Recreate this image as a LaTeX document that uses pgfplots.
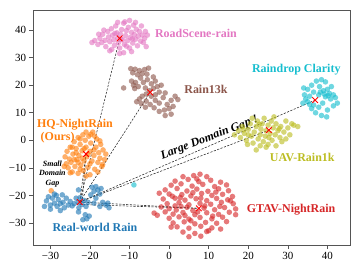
\documentclass[border=0pt]{standalone}
\usepackage{fontspec}
\setmainfont{Liberation Serif}
\usepackage{pgfplots}
\pgfplotsset{compat=1.18}
\definecolor{cpink}{HTML}{E377C2}
\definecolor{cbrown}{HTML}{8C564B}
\definecolor{ccyan}{HTML}{17BECF}
\definecolor{colive}{HTML}{BCBD22}
\definecolor{corange}{HTML}{FF7F0E}
\definecolor{cblue}{HTML}{1F77B4}
\definecolor{cred}{HTML}{D62728}
\definecolor{frame}{HTML}{555555}
\begin{document}
\begin{tikzpicture}
\begin{axis}[
  at={(33bp,27bp)}, anchor=south west,
  scale only axis, width=317bp, height=235bp,
  xmin=-34.4, xmax=45.7, ymin=-38.0, ymax=47.3,
  xtick={-30,-20,-10,0,10,20,30,40},
  xticklabels={−30,−20,−10,0,10,20,30,40},
  ytick={-30,-20,-10,0,10,20,30,40},
  yticklabels={−30,−20,−10,0,10,20,30,40},
  tick align=outside, tick pos=left,
  major tick length=3.5bp,
  axis line style={frame, line width=0.8pt},
  tick style={frame, line width=0.7pt},
  ticklabel style={font=\fontsize{11}{13}\selectfont},
  clip=false,
  sc/.style={only marks, mark=*, mark size=2.8pt, color=#1, mark options={draw opacity=0, fill=#1, fill opacity=0.62}},
]
% RoadScene-rain
\addplot[sc=cpink] coordinates {
(-19.5,35.5) (-18.8,36.2) (-18,34.8) (-17.5,37) (-17,35.5) (-16.8,38.5) (-16.2,36.3) (-16,34) (-15.5,39.5) (-15.3,37.5) (-15,35.8) (-15,32.5) (-14.6,40.5) (-14.3,38.2) (-14,36.5) (-13.8,34.5) (-13.5,41.5) (-13.2,39) (-13,37.2) (-12.8,35.5) (-12.5,33.5) (-12.3,38.5) (-12,40.2) (-11.8,36.5) (-11.5,42.5) (-11.3,34.8) (-11,38) (-10.8,39.8) (-10.5,36.2) (-10.3,41) (-10,43.5) (-10,33.5) (-9.8,37.3) (-9.5,39.2) (-9.2,35.3) (-9,41.8) (-8.8,38.4) (-8.5,36.7) (-8.3,40.3) (-8,34.3) (-7.8,37.8) (-7.5,39.5) (-7.2,36) (-7,41.5) (-6.8,38.2) (-6.5,35.5) (-6.2,37) (-6,39.5) (-5.8,34) (-12.5,31.5) (-14.5,33) (-9.5,32.2) (-16.5,40) (-13,42.8) (-11.2,43) (-8.5,42.8) (-11.5,31.8) (-17.8,38.5) (-5.5,38.2) (-10.8,34.2) (-12.2,36.7) (-13.7,38.8) (-9.3,36.8)
};
% Rain13k
\addplot[sc=cbrown] coordinates {
(-11.5,19) (-9.7,26) (-9.2,24.5) (-8.6,25.8) (-8,23.8) (-7.5,25.3) (-6.8,24.2) (-6.2,25.7) (-5.6,24) (-5.2,26.2) (-9.5,21.5) (-9,20) (-8.5,21) (-8.7,18.8) (-7.8,19.5) (-6.5,21) (-5.5,22) (-4.5,20.5) (-3.5,21.5) (-6,19) (-5,18) (-4,18.8) (-3,19.5) (-2.5,17.5) (-2,20) (-3.5,16.5) (-4.5,16) (-5.8,16.8) (-6.8,16) (-7.5,15) (-8.2,14) (-7,13.3) (-5.8,14.2) (-4.8,13) (-3.5,14.5) (-2.5,13.5) (-1.5,15.5) (-1,17.2) (-0.5,13) (0.5,14.5) (1.5,16) (2.2,14.8) (0,11.5) (-1.2,11) (-2.5,10.5) (-1,9) (0.5,9.5) (-3.8,11.8) (-6,12) (-4,23) (-7.2,22.6) (1,12.3)
};
% Raindrop Clarity
\addplot[sc=ccyan] coordinates {
(33.8,13.5) (34.5,15) (34.2,16.5) (35,14) (35.5,16) (35,18.5) (36,20) (36.5,17.5) (37.2,21.5) (38,19.5) (38.5,22) (39.5,21.2) (39,18) (40,18.5) (40.5,17) (41.5,16.5) (42,15.5) (40.8,15) (39.5,15.8) (38.8,13.5) (37.8,12) (36.5,12.8) (37,10) (38.5,9) (40,11) (41.5,12.5) (42.5,13.5) (39.8,8.5) (36,11.5) (35.5,13) (34,19) (37.8,16.5) (39.2,16.8) (38.2,17.5) (40.2,16.2) (41,19.5) (-8.9,-16.2)
};
% UAV-Rain1k
\addplot[sc=colive] coordinates {
(16.5,2) (17.5,3.5) (18,1) (18.5,5) (19,2.5) (19.5,0) (20,4) (20.5,6) (20.8,1.5) (21.2,-1) (21.5,3) (22,5) (22.3,7) (22.5,0.5) (22,-3.5) (23,2) (23.2,4) (23.5,6) (23.8,-0.5) (24,8) (24.3,1.5) (24.5,3.5) (25,5.5) (25,-1.5) (25.5,2.5) (25.8,7) (26,0) (26.3,4.5) (26.8,2) (27,6) (27,-2) (27.5,3.5) (28,1) (28.2,5) (28.5,-0.5) (29,3) (29.5,7) (29.5,0.5) (30,4.5) (31,6) (31.5,5.5) (32.5,5) (30.5,2) (24.5,-2.5) (23,-2) (19.8,-1.5) (21,8) (26.5,8.5) (20,2) (18.8,3.8) (27.8,4.2) (25.2,1) (22.8,5.8)
};
% HQ-NightRain
\addplot[sc=corange] coordinates {
(-26.3,-6) (-26,-8.5) (-25.8,-4) (-25.5,-10) (-25.2,-6.8) (-25,-2.5) (-24.8,-8) (-24.5,-11.5) (-24.3,-5) (-24,-0.5) (-23.8,-9.5) (-23.5,-3) (-23.3,-7) (-23,1) (-23,-12) (-22.8,-5.5) (-22.5,-1.5) (-22.3,-9) (-22,-3.8) (-21.8,2) (-21.7,-11) (-21.5,-7.5) (-21.2,0) (-21,-2.5) (-20.8,-6) (-20.5,-9.8) (-20.3,1.5) (-20,-4) (-20,-12.5) (-19.8,-1) (-19.5,-7.5) (-19.3,3) (-19,-5.5) (-18.8,-10.5) (-18.5,-2.5) (-18.3,0.5) (-18,-8) (-17.8,-4.5) (-17.5,-6.5) (-17.3,-1.5) (-17,-9.5) (-16.7,-3.5) (-16.3,-7) (-16,-5) (-22,-6.5) (-23.5,-4.5) (-20.5,-5) (-21.5,-3) (-19,-3.5) (-24,-7) (-22.5,-10.5) (-20,-8.5) (-18,-11.5) (-25,-11.8) (-21,3) (-22.5,0.5) (-19.8,2.2) (-26.5,-9.5) (-23,-8) (-17.5,-0.2) (-29.8,-18.3) (-24.5,-2.5) (-21,-13) (-18.8,1.5) (-16.8,-8.8)
};
% Real-world Rain
\addplot[sc=cblue] coordinates {
(-31,-22) (-30.5,-20.5) (-30,-23.5) (-29.5,-21) (-29,-22.8) (-28.5,-20) (-28.3,-24) (-28,-21.5) (-27.5,-23) (-27,-19.8) (-26.8,-22.5) (-26.5,-24.5) (-26,-21) (-25.5,-23.5) (-25,-22.2) (-24.5,-23.8) (-24,-23) (-23.5,-21) (-23,-22.5) (-22.8,-24.5) (-22.5,-20.8) (-22,-23.3) (-21.5,-21.8) (-21,-24) (-20.5,-22.5) (-22.9,-18) (-22.9,-26) (-21.2,-27) (-20.8,-28.5) (-20.2,-27.5) (-21.8,-28.8) (-19.5,-17) (-19,-18.5) (-18.5,-16.8) (-18,-18) (-17.5,-19.5) (-17.2,-17.5) (-19.8,-19.8) (-16.8,-22.5) (-16,-23.5) (-15.5,-22.8) (-15.2,-24.5) (-17.5,-24) (-19,-22.8) (-18.5,-21) (-31.5,-24) (-30,-25) (-27.5,-25.5) (-29,-19.5)
};
% GTAV-NightRain
\addplot[sc=cred] coordinates {
(3.5,-13.2) (6.2,-12.8) (7.8,-12.3) (9.5,-13.2) (1.5,-14.8) (4.8,-14.2) (7.5,-15) (10.5,-14.5) (13,-15.2)
(0.5,-16.3) (3,-15.8) (5.8,-16.6) (8.5,-16) (11.5,-16.8) (14.5,-16.2)
(-1,-18) (2,-17.5) (4.5,-18.4) (7,-17.7) (9.8,-18.5) (12.5,-17.6) (15,-18.3)
(-2.5,-19.2) (0,-19.5) (0.8,-20.3) (3.2,-19.7) (5.5,-20.2) (8.2,-19.3) (10.8,-20) (13.5,-19.6) (16,-20.4)
(-1.5,-21.3) (1.5,-21) (4,-21.7) (6.8,-21.2) (9.5,-21.9) (12,-21.1) (14.8,-21.6)
(-0.5,-23) (2.5,-22.6) (5,-23.4) (7.8,-22.9) (10.5,-23.2) (13.2,-22.5) (16.2,-23)
(0,-24.8) (1.8,-25.3) (4.5,-24.3) (6,-25.5) (8.8,-24.6) (11.5,-25.2) (14,-24.4) (16.8,-24.9)
(-3.8,-26.4) (-3,-27.2) (-1,-26) (1,-26.8) (3.5,-26.2) (6.5,-27) (9.5,-26.3) (12.5,-26.9) (15.2,-26.1)
(0,-28.3) (2.5,-27.8) (5,-28.6) (7.8,-28) (10.8,-28.5) (13.5,-27.9)
(1,-30) (3.8,-29.6) (6.5,-30.3) (9.2,-29.8) (12,-30.1) (14.5,-29.5)
(2,-31.4) (5,-31.9) (8,-31.2) (10.8,-31.8) (13,-32.2)
(3.5,-33.3) (6.5,-33.8) (9.5,-33.1) (5,-35) (8,-34.8)
(2.8,-20.8) (6,-19) (9,-23.8) (11,-27.5) (4,-27.3) (7.2,-26) (3,-24) (12.8,-24) (8,-21) (5.5,-29.2) (10,-32.8) (15.5,-22) (1.5,-23.8) (-2,-24.2) (7,-14) (11.8,-18.8) (16.8,-27) (0.5,-31.5)
};
% dashed connection lines
\pgfplotsset{dl/.style={black!85, line width=0.55pt, dash pattern=on 2.2pt off 1.4pt, forget plot}}
\addplot[dl] coordinates {(-22.6,-22.4) (-12.5,37.0)};
\addplot[dl] coordinates {(-22.6,-22.4) (-4.8,17.4)};
\addplot[dl] coordinates {(-22.6,-22.4) (-21.0,-5.0)};
\addplot[dl] coordinates {(-22.0,-22.6) (-21.0,-5.0)};
\addplot[dl] coordinates {(-22.6,-22.4) (36.9,14.6)};
\addplot[dl] coordinates {(-22.6,-22.4) (25.2,3.7)};
\addplot[dl] coordinates {(-22.6,-22.4) (7.5,-24.7)};
\addplot[dl] coordinates {(-22.6,-23.3) (7.5,-24.7)};
% centroids
\addplot[only marks, mark=x, mark size=4pt, red, line width=0.9pt] coordinates {
(-12.5,37.0) (-4.8,17.4) (36.9,14.6) (25.2,3.7) (-21.0,-5.0) (-22.6,-22.4) (7.5,-24.7)
};
% labels
\tikzset{lab/.style={anchor=west, font=\bfseries\fontsize{12}{14}\selectfont, inner sep=0pt}}
\node[lab, text=cpink] at (axis cs:-3.6,38.9) {RoadScene-rain};
\node[lab, text=cbrown] at (axis cs:3.8,18.4) {Rain13k};
\node[lab, text=ccyan] at (axis cs:20.9,25.6) {Raindrop Clarity};
\node[lab, text=colive] at (axis cs:25.4,-6.2) {UAV-Rain1k};
\node[lab, text=cred] at (axis cs:19.6,-25.3) {GTAV-NightRain};
\node[lab, text=cblue] at (axis cs:-29.5,-31.6) {Real-world Rain};
\node[lab, text=corange] at (axis cs:-33.4,5.8) {HQ-NightRain};
\node[lab, text=corange] at (axis cs:-32.5,0.9) {(Ours)};
\node[align=center, font=\bfseries\itshape\fontsize{8}{9.5}\selectfont, inner sep=0pt] at (axis cs:-29.5,-12.2) {Small\\Domain\\Gap};
\node[rotate=21, font=\bfseries\itshape\fontsize{12}{14}\selectfont, inner sep=0pt] at (axis cs:10.2,0.9) {Large Domain Gap !};
\end{axis}
\pgfresetboundingbox
\useasboundingbox (0,0) rectangle (359bp,272bp);
\end{tikzpicture}
\end{document}
